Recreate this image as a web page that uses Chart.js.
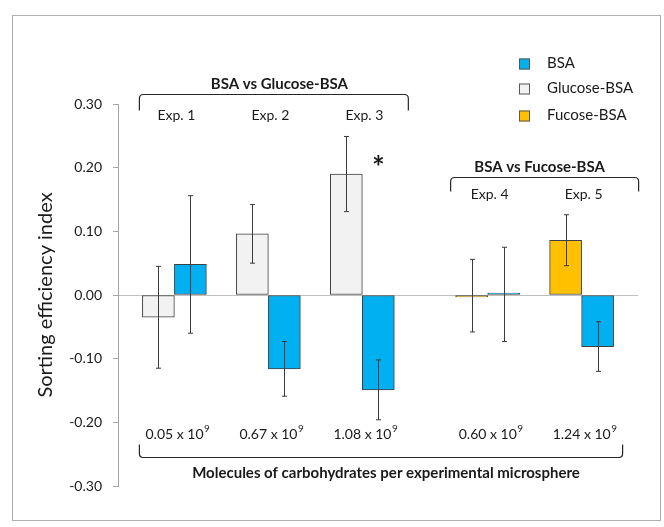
<!DOCTYPE html>
<html>
<head>
<meta charset="utf-8">
<script src="https://cdn.jsdelivr.net/npm/chart.js@4.4.1/dist/chart.umd.min.js"></script>
<style>
  html, body { margin: 0; padding: 0; background: #fff; }
  #wrap { width: 664px; height: 527px; }
</style>
</head>
<body>
<div id="wrap"><canvas id="chart" width="664" height="527"></canvas></div>
<script>
// values
const experiments = ['Exp. 1', 'Exp. 2', 'Exp. 3', 'Exp. 4', 'Exp. 5'];
const molecules = ['0.05', '0.67', '1.08', '0.60', '1.24']; // x 10^9
const bsaValues = [0.048, -0.116, -0.149, 0.001, -0.081];
const bsaErrors = [0.108, 0.043, 0.047, 0.074, 0.039];
const glucoseValues = [-0.035, 0.096, 0.190];   // Exp. 1-3
const glucoseErrors = [0.080, 0.046, 0.059];
const fucoseValues = [-0.001, 0.086];           // Exp. 4-5
const fucoseErrors = [0.057, 0.040];
const yTickValues = [-0.30, -0.20, -0.10, 0.00, 0.10, 0.20, 0.30];

const FONT = 'Lato';
const TEXT = '#1a1a1a';
const GAP = 1 / 3; // extra space between the two comparisons
const groupPos = i => i + (i >= 3 ? GAP : 0);

const datasets = [
  {
    label: 'Glucose-BSA',
    data: glucoseValues.map((v, i) => ({ x: groupPos(i), y: v })),
    errors: glucoseErrors,
    backgroundColor: '#f2f2f2',
    stack: 'carb'
  },
  {
    label: 'Fucose-BSA',
    data: fucoseValues.map((v, i) => ({ x: groupPos(i + 3), y: v })),
    errors: fucoseErrors,
    backgroundColor: '#ffc000',
    stack: 'carb'
  },
  {
    label: 'BSA',
    data: bsaValues.map((v, i) => ({ x: groupPos(i), y: v })),
    errors: bsaErrors,
    backgroundColor: '#00b0f0',
    stack: 'bsa'
  }
];
datasets.forEach(d => {
  d.borderColor = '#404040';
  d.borderWidth = 1;
  d.borderSkipped = false;
  d.barThickness = 32;
  d.minBarLength = 2;
});

function bracket(ctx, x1, x2, y, tip) {
  // tip < 0 : ends point up, tip > 0 : ends point down
  const r = 4 * Math.sign(tip);
  ctx.beginPath();
  ctx.moveTo(x1, y + tip);
  ctx.lineTo(x1, y + r);
  ctx.quadraticCurveTo(x1, y, x1 + 4, y);
  ctx.lineTo(x2 - 4, y);
  ctx.quadraticCurveTo(x2, y, x2, y + r);
  ctx.lineTo(x2, y + tip);
  ctx.stroke();
}

function sciLabel(ctx, x, y, base) {
  const main = base + ' x 10';
  ctx.font = '14px ' + FONT;
  const w1 = ctx.measureText(main).width;
  ctx.font = '10px ' + FONT;
  const w2 = ctx.measureText('9').width;
  const left = x - (w1 + w2) / 2;
  ctx.textAlign = 'left';
  ctx.textBaseline = 'middle';
  ctx.font = '14px ' + FONT;
  ctx.fillText(main, left, y);
  ctx.font = '10px ' + FONT;
  ctx.fillText('9', left + w1 + 0.5, y - 5);
}

const extras = {
  id: 'extras',
  beforeDraw(chart) {
    const ctx = chart.ctx;
    ctx.save();
    ctx.strokeStyle = '#b0b0b0';
    ctx.lineWidth = 1;
    ctx.strokeRect(12.5, 15.5, 648, 505);
    ctx.restore();
  },
  afterDatasetsDraw(chart) {
    const ctx = chart.ctx;
    const yS = chart.scales.y;
    ctx.save();
    ctx.strokeStyle = '#3a3a3a';
    ctx.lineWidth = 1;
    chart.data.datasets.forEach((ds, di) => {
      const meta = chart.getDatasetMeta(di);
      meta.data.forEach((bar, i) => {
        const v = ds.data[i].y, e = ds.errors[i];
        const x = Math.round(bar.x) + 0.5;
        const y1 = yS.getPixelForValue(v + e), y2 = yS.getPixelForValue(v - e);
        ctx.beginPath();
        ctx.moveTo(x, y1); ctx.lineTo(x, y2);
        ctx.moveTo(x - 2.5, y1); ctx.lineTo(x + 2.5, y1);
        ctx.moveTo(x - 2.5, y2); ctx.lineTo(x + 2.5, y2);
        ctx.stroke();
      });
    });
    ctx.restore();
  },
  afterDraw(chart) {
    const ctx = chart.ctx;
    const xS = chart.scales.x;
    const px = i => xS.getPixelForValue(groupPos(i));
    ctx.save();
    ctx.fillStyle = TEXT;
    ctx.strokeStyle = '#262626';
    ctx.lineWidth = 1.2;

    // top brackets and experiment labels
    ctx.textAlign = 'center';
    ctx.textBaseline = 'middle';
    ctx.font = 'bold 15px ' + FONT;
    ctx.fillText('BSA vs Glucose-BSA', (px(0) + px(2)) / 2 + 11, 84);
    ctx.fillText('BSA vs Fucose-BSA', (px(3) + px(4)) / 2 + 5, 167);
    bracket(ctx, px(0) - 35, px(2) + 46, 94.5, 16);
    bracket(ctx, px(3) - 37, px(4) + 57, 177.5, 14);
    ctx.font = '14px ' + FONT;
    experiments.forEach((t, i) => {
      ctx.fillText(t, px(i) + 2, i < 3 ? 115 : 194);
    });

    // significance mark
    ctx.font = 'bold 30px ' + FONT;
    ctx.fillText('*', px(2) + 16, 168);

    // bottom labels and bracket
    molecules.forEach((m, i) => sciLabel(ctx, px(i) + 3, 434, m));
    bracket(ctx, px(0) - 35, px(4) + 41, 457.5, -13);
    ctx.textAlign = 'center';
    ctx.font = 'bold 15px ' + FONT;
    ctx.fillText('Molecules of carbohydrates per experimental microsphere', 386, 473);

    // legend
    const order = ['BSA', 'Glucose-BSA', 'Fucose-BSA'];
    const ly = [63.5, 88.5, 115.5];
    ctx.textAlign = 'left';
    ctx.font = '15px ' + FONT;
    order.forEach((name, k) => {
      const ds = chart.data.datasets.find(d => d.label === name);
      ctx.fillStyle = ds.backgroundColor;
      ctx.fillRect(519, ly[k] - 5, 11, 11);
      ctx.strokeStyle = '#595959';
      ctx.lineWidth = 1;
      ctx.strokeRect(519.5, ly[k] - 4.5, 10, 10);
      ctx.fillStyle = TEXT;
      ctx.fillText(name, 547, ly[k]);
    });
    ctx.restore();
  }
};

new Chart(document.getElementById('chart'), {
  type: 'bar',
  data: { datasets },
  options: {
    responsive: false,
    animation: false,
    devicePixelRatio: 1,
    layout: { padding: { top: 104, bottom: 41, left: 0, right: 26 } },
    plugins: { legend: { display: false }, tooltip: { enabled: false } },
    scales: {
      x: {
        type: 'linear',
        display: false,
        stacked: true,
        offset: false,
        grid: { offset: false },
        min: -0.6,
        max: 4 + GAP + 0.6
      },
      y: {
        stacked: false,
        min: -0.3,
        max: 0.3,
        afterBuildTicks: s => { s.ticks = yTickValues.map(v => ({ value: v })); },
        afterFit: s => { s.width = 118; },
        border: { color: '#a6a6a6', width: 1 },
        grid: {
          color: c => (c.tick && c.tick.value === 0) ? '#bfbfbf' : 'rgba(0,0,0,0)',
          tickColor: '#a6a6a6',
          tickLength: 5,
          lineWidth: 1
        },
        ticks: {
          callback: v => v.toFixed(2),
          padding: 11,
          color: TEXT,
          font: { family: FONT, size: 14 }
        },
        title: {
          display: true,
          text: 'Sorting efficiency index',
          color: TEXT,
          font: { family: FONT, size: 20 },
          padding: { top: 34, bottom: 0 }
        }
      }
    }
  },
  plugins: [extras]
});
</script>
</body>
</html>
